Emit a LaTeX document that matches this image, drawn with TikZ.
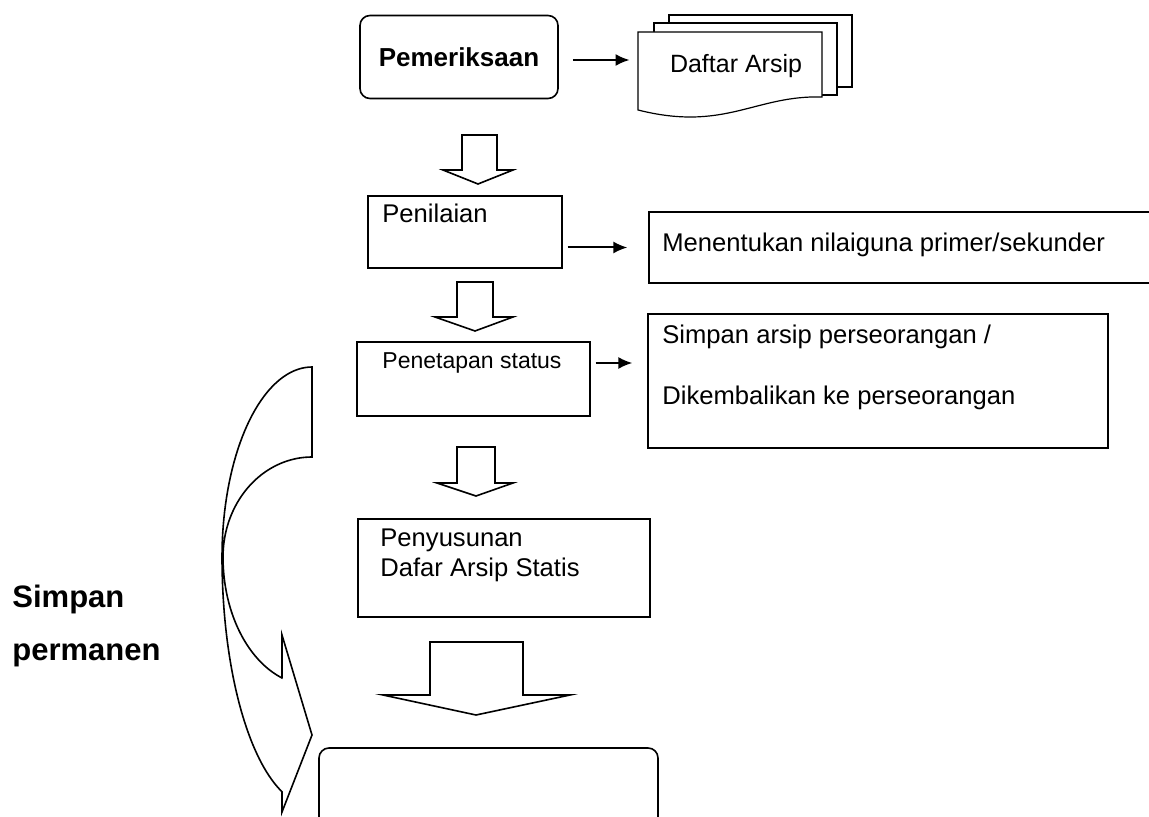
\documentclass[tikz,border=0pt]{standalone}
\usepackage{fontspec}
\setmainfont{Liberation Sans}
\usetikzlibrary{arrows.meta,calc}
\begin{document}
\begin{tikzpicture}[x=0.5pt,y=-0.5pt,
  box/.style={draw, line width=0.6pt, inner sep=0pt},
  rbox/.style={draw, line width=0.8pt, rounded corners=5pt, inner sep=0pt},
  txt/.style={inner sep=0pt, font=\fontsize{12.8}{15}\selectfont},
  conn/.style={-{Latex[length=7pt,width=6pt]}, line width=1pt},
  blk/.style={draw, line width=0.8pt, line join=miter},
  doc/.style={draw, line width=0.6pt, fill=white}]
\useasboundingbox (0,0) rectangle (1149,817);
\clip (0,0) rectangle (1149,817);

% Pemeriksaan
\node[rbox, minimum width=99pt, minimum height=41.5pt,
  font=\bfseries\fontsize{13}{15}\selectfont] (pem) at (459,57) {Pemeriksaan};

% Daftar Arsip (multi document)
\draw[doc] (669,23) -- (669,15) -- (852,15) -- (852,87) -- (837,87);
\draw[doc] (654,32) -- (654,23) -- (837,23) -- (837,95) -- (822,95);
\draw[doc] (638,32) -- (822,32) -- (822,97) .. controls (755,95) and (725,132) .. (638,110) -- cycle;
\node[inner sep=0pt, minimum width=92pt, minimum height=39pt] (daftar) at (730,71) {};
\node[txt, font=\fontsize{12.5}{15}\selectfont] (daftart) at (736,66) {Daftar Arsip};
\draw[conn, shorten <=7pt, shorten >=4pt] ([yshift=-1.5pt]pem.east) -- ([yshift=-1.5pt]pem.east -| daftar.west);

% block arrow 1
\draw[blk] (462,135) -- (497,135) -- (497,170) -- (513,170) -- (478,184) -- (443,170) -- (462,170) -- cycle;

% Penilaian
\node[box, minimum width=97pt, minimum height=36pt] (nil) at (465,232) {};
\node[txt, anchor=west] (nilt) at (382,213) {Penilaian};

% Menentukan
\node[box, minimum width=255.5pt, minimum height=35.5pt] (men) at (904.5,247.5) {};
\node[txt, anchor=west] (ment) at (662,245) {Menentukan nilaiguna primer/sekunder};
\draw[conn, shorten <=2.5pt, shorten >=10.5pt] (nil.east |- men.west) -- (men.west);

% block arrow 2
\draw[blk] (457,282) -- (493,282) -- (493,317) -- (513,317) -- (475,331) -- (435,317) -- (457,317) -- cycle;

% Penetapan status
\node[box, minimum width=116.5pt, minimum height=37pt] (pen) at (473.5,379) {};
\node[txt, font=\fontsize{11.5}{14}\selectfont] (pent) at (472,363) {Penetapan status};

% Simpan arsip box
\node[box, minimum width=230pt, minimum height=67pt] (simp) at (878,381) {};
\node[txt, anchor=west] (simpt1) at (662,337) {Simpan arsip perseorangan /};
\node[txt, anchor=west] (simpt2) at (662,398) {Dikembalikan ke perseorangan};
\draw[conn, shorten <=2.5pt, shorten >=7.5pt] (pen.east |- pent.center) -- (simp.west |- pent.center);

% block arrow 3
\draw[blk] (457,447) -- (495,447) -- (495,483) -- (513,483) -- (476,496) -- (437,483) -- (457,483) -- cycle;

% Penyusunan
\node[box, minimum width=146pt, minimum height=49pt] (pey) at (504,568) {};
\node[txt, anchor=west] (peyt1) at (380,540) {Penyusunan};
\node[txt, anchor=west] (peyt2) at (380,570) {Dafar Arsip Statis};

% block arrow 4
\draw[blk] (430,642) -- (523,642) -- (523,695) -- (570,695) -- (476,715) -- (383,695) -- (430,695) -- cycle;

% final rounded box (cut by page edge)
\node[rbox, minimum width=169.5pt, minimum height=56pt] (fin) at (488.5,804) {};

% curved arrow
\draw[line width=0.8pt, line join=miter]
  plot[domain=270:180, samples=40] ({312+90*cos(\x)},{557+190*sin(\x)})
  -- plot[domain=180:109.47, samples=40] ({312+90*cos(\x)},{557+249*sin(\x)})
  -- (282,812) -- (312,735) -- (282,635) -- (282,678)
  -- plot[domain=109.3:180, samples=40] ({312+89*cos(\x)},{557+128.5*sin(\x)})
  -- plot[domain=180:270, samples=40] ({312+89*cos(\x)},{557+100*sin(\x)})
  -- cycle;

% Simpan permanen
\node[anchor=base west, inner sep=0pt, font=\bfseries\fontsize{15.5}{18}\selectfont] (sp1) at (12,607) {Simpan};
\node[anchor=base west, inner sep=0pt, font=\bfseries\fontsize{15.5}{18}\selectfont] (sp2) at (12,660) {permanen};
\end{tikzpicture}
\end{document}
